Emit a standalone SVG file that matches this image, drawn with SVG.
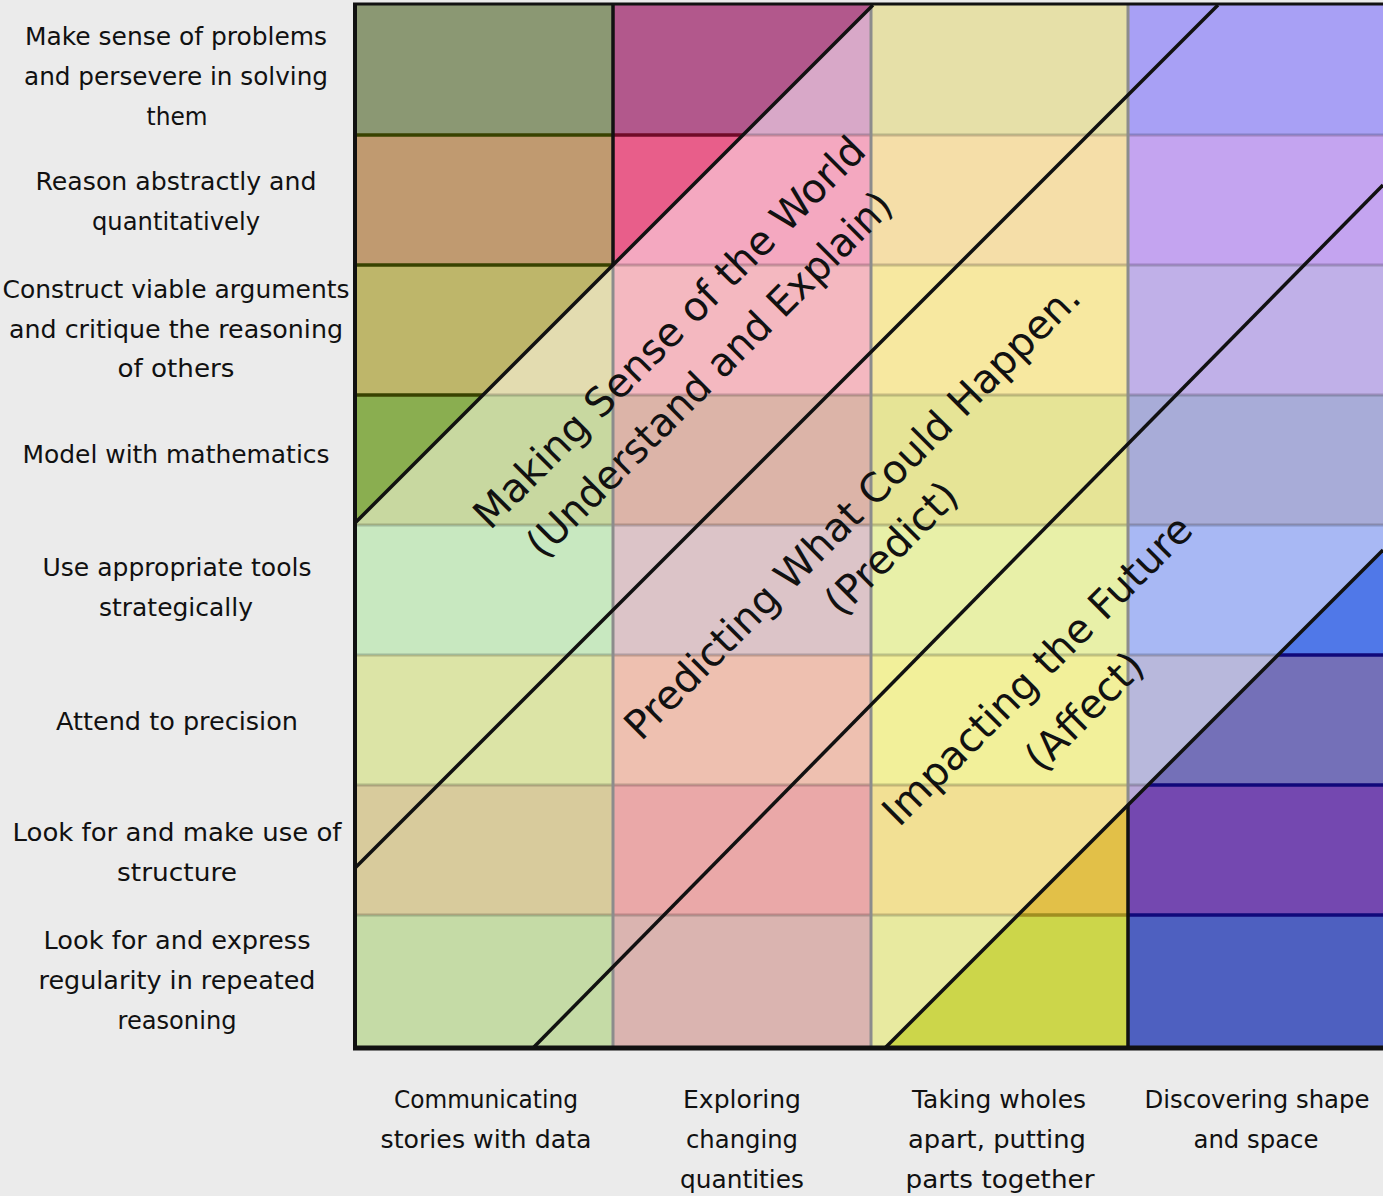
<svg xmlns="http://www.w3.org/2000/svg" width="1383" height="1196" viewBox="0 0 1383 1196">
<style>
.lbl{font-family:"DejaVu Sans","Liberation Sans",sans-serif;font-size:24.5px;fill:#111;text-anchor:middle}
.band{font-family:"DejaVu Sans","Liberation Sans",sans-serif;font-size:40px;fill:#111;text-anchor:middle}
.hl{stroke:#000;stroke-opacity:0.2;stroke-width:3}
.vl{stroke:#8c8c8c;stroke-width:3}
.dl{stroke:#111;stroke-width:3.5;fill:none}
</style>
<defs>
<clipPath id="clipA"><polygon points="355,5 873,5 355,523"/></clipPath>
<clipPath id="clipE"><polygon points="885,1048 1383,550 1383,1048"/></clipPath>
</defs>
<rect width="1383" height="1196" fill="#ebebeb"/>
<g id="cells-bands">
<rect x="355" y="5" width="258" height="130" fill="#8b9873"/>
<rect x="355" y="135" width="258" height="130" fill="#c09a70"/>
<rect x="355" y="265" width="258" height="130" fill="#e3dcb0"/>
<rect x="355" y="395" width="258" height="130" fill="#c8d8a0"/>
<rect x="355" y="525" width="258" height="130" fill="#c8e8c0"/>
<rect x="355" y="655" width="258" height="130" fill="#dce4a6"/>
<rect x="355" y="785" width="258" height="130" fill="#d8cb9c"/>
<rect x="355" y="915" width="258" height="133" fill="#c5dba6"/>
<rect x="613" y="5" width="258" height="130" fill="#d8a8c8"/>
<rect x="613" y="135" width="258" height="130" fill="#f4a8c0"/>
<rect x="613" y="265" width="258" height="130" fill="#f4b8c0"/>
<rect x="613" y="395" width="258" height="130" fill="#dcb4a8"/>
<rect x="613" y="525" width="258" height="130" fill="#dcc4c8"/>
<rect x="613" y="655" width="258" height="130" fill="#eec0b0"/>
<rect x="613" y="785" width="258" height="130" fill="#eaa8a8"/>
<rect x="613" y="915" width="258" height="133" fill="#dab4b0"/>
<rect x="871" y="5" width="257" height="130" fill="#e6e0a8"/>
<rect x="871" y="135" width="257" height="130" fill="#f5dea8"/>
<rect x="871" y="265" width="257" height="130" fill="#f7e8a0"/>
<rect x="871" y="395" width="257" height="130" fill="#e6e496"/>
<rect x="871" y="525" width="257" height="130" fill="#e8f0a8"/>
<rect x="871" y="655" width="257" height="130" fill="#f2f09a"/>
<rect x="871" y="785" width="257" height="130" fill="#f2e094"/>
<rect x="871" y="915" width="257" height="133" fill="#e8eaa0"/>
<rect x="1128" y="5" width="255" height="130" fill="#a8a0f5"/>
<rect x="1128" y="135" width="255" height="130" fill="#c4a4f0"/>
<rect x="1128" y="265" width="255" height="130" fill="#c0b0e8"/>
<rect x="1128" y="395" width="255" height="130" fill="#a8acd8"/>
<rect x="1128" y="525" width="255" height="130" fill="#a8b8f4"/>
<rect x="1128" y="655" width="255" height="130" fill="#b8b8dc"/>
<rect x="1128" y="785" width="255" height="130" fill="#b8a8d8"/>
<rect x="1128" y="915" width="255" height="133" fill="#a8b0e0"/>
</g>
<g id="grid-lines">
<line class="hl" x1="355" y1="135" x2="1383" y2="135"/>
<line class="hl" x1="355" y1="265" x2="1383" y2="265"/>
<line class="hl" x1="355" y1="395" x2="1383" y2="395"/>
<line class="hl" x1="355" y1="525" x2="1383" y2="525"/>
<line class="hl" x1="355" y1="655" x2="1383" y2="655"/>
<line class="hl" x1="355" y1="785" x2="1383" y2="785"/>
<line class="hl" x1="355" y1="915" x2="1383" y2="915"/>
<line class="vl" x1="613" y1="5" x2="613" y2="1048"/>
<line class="vl" x1="871" y1="5" x2="871" y2="1048"/>
<line class="vl" x1="1128" y1="5" x2="1128" y2="1048"/>
</g>
<g id="corner-top-left" clip-path="url(#clipA)">
<rect x="355" y="5" width="258" height="130" fill="#8b9873"/>
<rect x="355" y="135" width="258" height="130" fill="#c09a70"/>
<rect x="355" y="265" width="258" height="130" fill="#beb66a"/>
<rect x="355" y="395" width="258" height="130" fill="#8aae50"/>
<rect x="613" y="5" width="258" height="130" fill="#b2588c"/>
<rect x="613" y="135" width="258" height="130" fill="#e85e8a"/>
<line x1="355" y1="135" x2="613" y2="135" stroke="#384200" stroke-width="3.5"/>
<line x1="355" y1="265" x2="613" y2="265" stroke="#384200" stroke-width="3.5"/>
<line x1="355" y1="395" x2="613" y2="395" stroke="#384200" stroke-width="3.5"/>
<line x1="613" y1="135" x2="871" y2="135" stroke="#700a28" stroke-width="3.5"/>
<line x1="613" y1="5" x2="613" y2="525" stroke="#111" stroke-width="3.5"/>
</g>
<g id="corner-bottom-right" clip-path="url(#clipE)">
<rect x="871" y="785" width="257" height="130" fill="#e2c048"/>
<rect x="871" y="915" width="257" height="133" fill="#ccd64a"/>
<rect x="1128" y="525" width="255" height="130" fill="#5078e8"/>
<rect x="1128" y="655" width="255" height="130" fill="#7470b8"/>
<rect x="1128" y="785" width="255" height="130" fill="#7448b0"/>
<rect x="1128" y="915" width="255" height="133" fill="#4e60c0"/>
<line x1="871" y1="915" x2="1128" y2="915" stroke="#a08e20" stroke-width="3.5"/>
<line x1="1128" y1="655" x2="1383" y2="655" stroke="#10087a" stroke-width="3.5"/>
<line x1="1128" y1="785" x2="1383" y2="785" stroke="#10087a" stroke-width="3.5"/>
<line x1="1128" y1="915" x2="1383" y2="915" stroke="#10087a" stroke-width="3.5"/>
<line x1="1128" y1="600" x2="1128" y2="1048" stroke="#111" stroke-width="3.5"/>
</g>
<g id="connectors">
<line class="dl" x1="355" y1="523" x2="873" y2="5"/>
<line class="dl" x1="355" y1="868" x2="1218" y2="5"/>
<line class="dl" x1="533" y1="1048" x2="1383" y2="185"/>
<line class="dl" x1="885" y1="1048" x2="1383" y2="550"/>
</g>
<g id="frame" fill="none" stroke="#111">
<line x1="353" y1="4" x2="1383" y2="4" stroke-width="3"/>
<line x1="355" y1="3" x2="355" y2="1050" stroke-width="4"/>
<line x1="353" y1="1048" x2="1383" y2="1048" stroke-width="5"/>
</g>
<g id="band-labels">
<g id="band-understand">
<text class="band" transform="translate(679,342) rotate(-45)">Making Sense of the World</text>
<text class="band" transform="translate(719,384) rotate(-45)" textLength="498" lengthAdjust="spacingAndGlyphs">(Understand and Explain)</text>
</g>
<g id="band-predict">
<text class="band" transform="translate(862,521) rotate(-45)">Predicting What Could Happen.</text>
<text class="band" transform="translate(901,558) rotate(-45)">(Predict)</text>
</g>
<g id="band-affect">
<text class="band" transform="translate(1047,680) rotate(-45)">Impacting the Future</text>
<text class="band" transform="translate(1094,721) rotate(-45)">(Affect)</text>
</g>
</g>
<g id="row-labels">
<g id="row1"><text class="lbl" x="176" y="45" textLength="302" lengthAdjust="spacingAndGlyphs">Make sense of problems</text><text class="lbl" x="176" y="85" textLength="304" lengthAdjust="spacingAndGlyphs">and persevere in solving</text><text class="lbl" x="177" y="125" textLength="61" lengthAdjust="spacingAndGlyphs">them</text></g>
<g id="row2"><text class="lbl" x="176" y="190" textLength="281" lengthAdjust="spacingAndGlyphs">Reason abstractly and</text><text class="lbl" x="176" y="230" textLength="168" lengthAdjust="spacingAndGlyphs">quantitatively</text></g>
<g id="row3"><text class="lbl" x="176" y="298" textLength="347" lengthAdjust="spacingAndGlyphs">Construct viable arguments</text><text class="lbl" x="176" y="338" textLength="334" lengthAdjust="spacingAndGlyphs">and critique the reasoning</text><text class="lbl" x="176" y="377" textLength="117" lengthAdjust="spacingAndGlyphs">of others</text></g>
<g id="row4"><text class="lbl" x="176" y="463" textLength="307" lengthAdjust="spacingAndGlyphs">Model with mathematics</text></g>
<g id="row5"><text class="lbl" x="177" y="576" textLength="269" lengthAdjust="spacingAndGlyphs">Use appropriate tools</text><text class="lbl" x="176" y="616" textLength="154" lengthAdjust="spacingAndGlyphs">strategically</text></g>
<g id="row6"><text class="lbl" x="177" y="730" textLength="242" lengthAdjust="spacingAndGlyphs">Attend to precision</text></g>
<g id="row7"><text class="lbl" x="177" y="841" textLength="329" lengthAdjust="spacingAndGlyphs">Look for and make use of</text><text class="lbl" x="177" y="881" textLength="120" lengthAdjust="spacingAndGlyphs">structure</text></g>
<g id="row8"><text class="lbl" x="177" y="949" textLength="267" lengthAdjust="spacingAndGlyphs">Look for and express</text><text class="lbl" x="177" y="989" textLength="277" lengthAdjust="spacingAndGlyphs">regularity in repeated</text><text class="lbl" x="177" y="1029" textLength="119" lengthAdjust="spacingAndGlyphs">reasoning</text></g>
</g>
<g id="column-labels">
<g id="col1"><text class="lbl" x="486" y="1108" textLength="184" lengthAdjust="spacingAndGlyphs">Communicating</text><text class="lbl" x="486" y="1148" textLength="211" lengthAdjust="spacingAndGlyphs">stories with data</text></g>
<g id="col2"><text class="lbl" x="742" y="1108" textLength="118" lengthAdjust="spacingAndGlyphs">Exploring</text><text class="lbl" x="742" y="1148" textLength="112" lengthAdjust="spacingAndGlyphs">changing</text><text class="lbl" x="742" y="1188" textLength="124" lengthAdjust="spacingAndGlyphs">quantities</text></g>
<g id="col3"><text class="lbl" x="999" y="1108" textLength="174" lengthAdjust="spacingAndGlyphs">Taking wholes</text><text class="lbl" x="997" y="1148" textLength="178" lengthAdjust="spacingAndGlyphs">apart, putting</text><text class="lbl" x="1000" y="1188" textLength="189" lengthAdjust="spacingAndGlyphs">parts together</text></g>
<g id="col4"><text class="lbl" x="1257" y="1108" textLength="225" lengthAdjust="spacingAndGlyphs">Discovering shape</text><text class="lbl" x="1256" y="1148" textLength="125" lengthAdjust="spacingAndGlyphs">and space</text></g>
</g>
</svg>
